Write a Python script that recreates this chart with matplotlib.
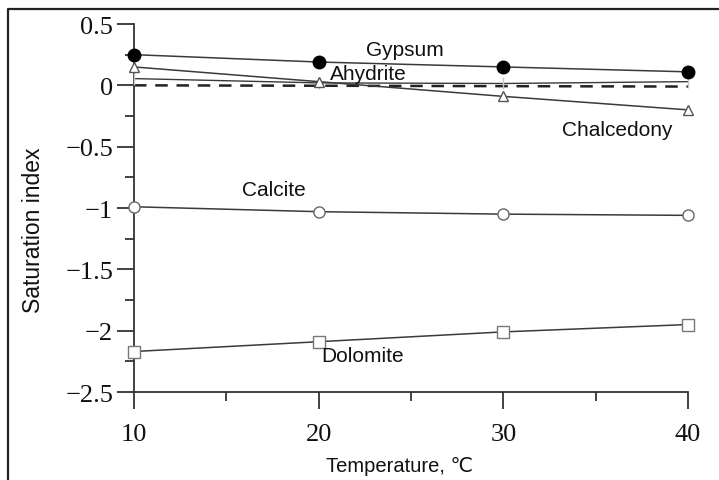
import matplotlib
matplotlib.use("Agg")
import matplotlib.pyplot as plt
from matplotlib.lines import Line2D
from matplotlib.ticker import MultipleLocator

temperature = [10, 20, 30, 40]
gypsum = [0.25, 0.19, 0.15, 0.11]
anhydrite = [0.055, 0.02, 0.015, 0.03]
chalcedony = [0.15, 0.03, -0.09, -0.20]
calcite = [-0.99, -1.03, -1.05, -1.06]
dolomite = [-2.17, -2.09, -2.01, -1.95]

x_ticks = [10, 20, 30, 40]
y_ticks = [0.5, 0, -0.5, -1, -1.5, -2, -2.5]
y_tick_labels = ["0.5", "0", "\u22120.5", "\u22121", "\u22121.5", "\u22122", "\u22122.5"]

W, H = 719, 481
fig = plt.figure(figsize=(W / 100, H / 100), dpi=100)
ax = fig.add_axes([134 / W, 1 - 393 / H, (688 - 134) / W, (393 - 25) / H])

lc = "#3a3a3a"
ax.plot(temperature, gypsum, color=lc, lw=1.1, marker="o", ms=9,
        mfc="black", mec="black", zorder=4, clip_on=False)
ax.plot(temperature, anhydrite, color=lc, lw=1.0, marker="|", ms=8,
        mec="#c8c8c8", zorder=3, clip_on=False)
ax.plot(temperature, chalcedony, color=lc, lw=1.1, marker="^", ms=7,
        mfc="white", mec="#555555", mew=1.0, zorder=4, clip_on=False)
ax.plot(temperature, calcite, color=lc, lw=1.1, marker="o", ms=8,
        mfc="white", mec="#666666", mew=1.0, zorder=4, clip_on=False)
ax.plot(temperature, dolomite, color=lc, lw=1.1, marker="s", ms=8,
        mfc="white", mec="#777777", mew=1.0, zorder=4, clip_on=False)
ax.plot([temperature[0], temperature[-1]], [0, -0.01], color="#222222",
        lw=1.8, ls=(0, (5, 3.5)), zorder=2)

ax.set_xlim(10, 40)
ax.set_ylim(-2.5, 0.5)
ax.set_xticks(x_ticks)
ax.set_yticks(y_ticks)
ax.set_yticklabels(y_tick_labels)
ax.xaxis.set_minor_locator(MultipleLocator(5))
ax.yaxis.set_minor_locator(MultipleLocator(0.25))
for s in ["top", "right"]:
    ax.spines[s].set_visible(False)
for s in ["left", "bottom"]:
    ax.spines[s].set_color("#333333")
    ax.spines[s].set_linewidth(1.3)
ax.tick_params(which="major", direction="out", length=12, width=1.3,
               color="#333333", labelsize=19)
ax.tick_params(which="minor", direction="out", length=6.5, width=1.3,
               color="#333333")
for lab in ax.get_xticklabels() + ax.get_yticklabels():
    lab.set_fontfamily("Liberation Serif")
    lab.set_color("#111111")
ax.tick_params(axis="y", pad=3)
ax.tick_params(axis="x", pad=10)

sans = ["Liberation Sans", "DejaVu Sans"]

def ftext(px, py, s, **kw):
    fig.text(px / W, 1 - py / H, s, **kw)

ftext(405, 51, "Gypsum", ha="center", va="center", fontsize=15, family=sans, color="#111111")
ftext(330, 75, "Ahydrite", ha="left", va="center", fontsize=15, family=sans, color="#111111")
ftext(617, 130, "Chalcedony", ha="center", va="center", fontsize=15, family=sans, color="#111111")
ftext(274, 191, "Calcite", ha="center", va="center", fontsize=15, family=sans, color="#111111")
ftext(363, 357, "Dolomite", ha="center", va="center", fontsize=15, family=sans, color="#111111")
ftext(400, 466, "Temperature, \u2103", ha="center", va="center", fontsize=14.5, family=sans, color="#111111")
ftext(34, 230, "Saturation index", rotation=90, ha="center", va="center",
      fontsize=16.5, family=sans, color="#111111")

# outer frame
fig.add_artist(Line2D([8 / W, 8 / W, 1.0], [0.0, 1 - 10 / H, 1 - 10 / H],
                      transform=fig.transFigure, color="#222222", lw=1.6))

fig.savefig("out.png", dpi=100)
